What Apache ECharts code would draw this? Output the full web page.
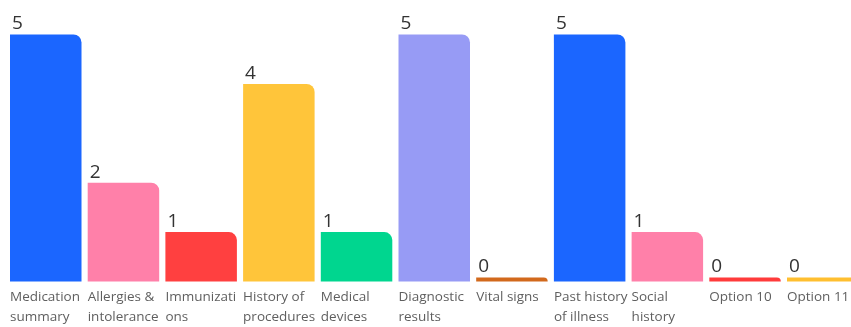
<!DOCTYPE html>
<html>
<head>
<meta charset="utf-8">
<script src="https://cdn.jsdelivr.net/npm/echarts@6/dist/echarts.min.js"></script>
<style>
  html, body { margin: 0; padding: 0; background: #fff; overflow: hidden; }
  /* wider than the window: the last bar runs off the right edge as in the source */
  #box { width: 880px; height: 327px; }
</style>
</head>
<body>
<div id="box"></div>
<script>
const categories = [
  'Medication\nsummary', 'Allergies &\nintolerance', 'Immunizati\nons',
  'History of\nprocedures', 'Medical\ndevices', 'Diagnostic\nresults',
  'Vital signs', 'Past history\nof illness', 'Social\nhistory',
  'Option 10', 'Option 11'
]
const values = [5, 2, 1, 4, 1, 5, 0, 5, 1, 0, 0]
const barColors = [
  '#1b66ff', '#ff80a9', '#ff4040', '#ffc53a', '#00d68f', '#979bf5',
  '#d2691c', '#1b66ff', '#ff80a9', '#ff3b3b', '#ffbf30'
]

const box = document.getElementById('box')
const myeCharts = echarts.init(box)

// band pitch ~77.7px, bars 71.5px wide, first bar starts at x=10
const pitch = 77.7
const barW = 71.5
const firstLeft = 10

const option = {
  animation: false,
  grid: [
    // bars
    { left: firstLeft - (pitch - barW) / 2, width: pitch * 11, top: 34.5, height: 247 },
    // category labels sit under a flat grid placed lower, left aligned at each bar's left edge
    { left: firstLeft, width: pitch * 10, top: 280, height: 10 }
  ],
  xAxis: [
    {
      type: 'category',
      gridIndex: 0,
      data: categories,
      axisLine: { show: false },
      axisTick: { show: false },
      axisLabel: { show: false }
    },
    {
      type: 'category',
      gridIndex: 1,
      boundaryGap: false,
      data: categories,
      axisLine: { show: false },
      axisTick: { show: false },
      axisLabel: {
        interval: 0,
        align: 'left',
        verticalAlign: 'top',
        margin: 0,
        color: '#5f5f5f',
        fontFamily: 'Open Sans',
        fontSize: 13.5,
        lineHeight: 20
      }
    }
  ],
  yAxis: [
    { type: 'value', gridIndex: 0, min: 0, max: 5, show: false, splitLine: { show: false } },
    { type: 'value', gridIndex: 1, min: 0, max: 5, show: false, splitLine: { show: false } }
  ],
  series: [
    {
      type: 'bar',
      xAxisIndex: 0,
      yAxisIndex: 0,
      data: values,
      barWidth: barW,
      barMinHeight: 4,
      itemStyle: {
        color: (p) => barColors[p.dataIndex],
        borderRadius: [0, 8, 0, 0]
      },
      label: {
        show: true,
        position: [2, -1],
        align: 'left',
        verticalAlign: 'bottom',
        color: '#333',
        fontFamily: 'Open Sans',
        fontSize: 19
      }
    }
  ]
}
myeCharts.setOption(option)
</script>
</body>
</html>
